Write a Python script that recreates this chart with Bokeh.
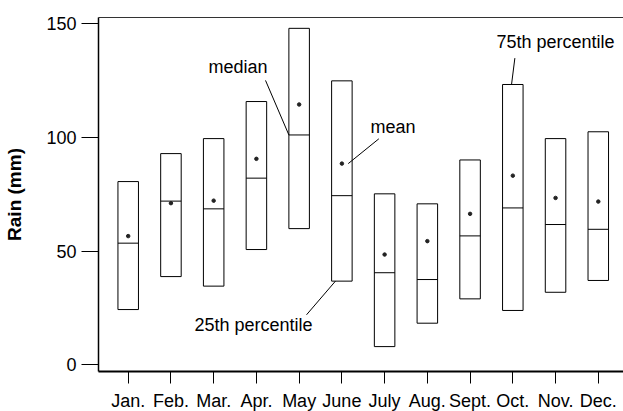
import numpy as np
from bokeh.plotting import figure
from bokeh.models import Range1d, FixedTicker, LinearAxis, Label
from bokeh.embed import file_html
from bokeh.resources import INLINE

# ---- data ----
months = ["Jan.", "Feb.", "Mar.", "Apr.", "May", "June",
          "July", "Aug.", "Sept.", "Oct.", "Nov.", "Dec."]
q25 = [24.3, 38.8, 34.6, 50.7, 59.9, 36.8, 8.0, 18.3, 29.0, 23.9, 31.9, 37.1]
median = [53.5, 72.0, 68.6, 82.1, 101.1, 74.4, 40.5, 37.5, 56.7, 69.0, 61.7, 59.6]
mean = [56.6, 71.1, 72.2, 90.6, 114.5, 88.5, 48.5, 54.4, 66.4, 83.2, 73.4, 71.8]
q75 = [80.6, 92.9, 99.5, 115.8, 148.0, 124.9, 75.2, 70.8, 90.1, 123.3, 99.5, 102.5]
y_ticks = [0, 50, 100, 150]

FONT = "Liberation Sans"
BOX_W = 0.48

xs = np.arange(len(months))

p = figure(frame_width=525, frame_height=354,
           x_range=Range1d(-0.695, 11.59), y_range=Range1d(-2.95, 152.77),
           output_backend="svg", toolbar_location=None,
           min_border_left=98, min_border_right=0,
           min_border_top=17, min_border_bottom=40)
p.grid.visible = False
p.outline_line_color = None
p.background_fill_color = "white"

# boxes
p.vbar(x=xs, width=BOX_W, bottom=q25, top=q75,
       fill_color="white", line_color="black", line_width=1)
# median lines
p.segment(x0=xs - BOX_W / 2, x1=xs + BOX_W / 2, y0=median, y1=median,
          line_color="black", line_width=1)
# mean dots
p.scatter(x=xs, y=mean, size=3.5, color="#222222")

# x axis
xa = p.xaxis[0]
xa.ticker = FixedTicker(ticks=list(range(len(months))))
xa.major_label_overrides = {int(i): m for i, m in enumerate(months)}
xa.major_tick_in = 0
xa.major_tick_out = 12
xa.minor_tick_line_color = None
xa.axis_line_width = 2
xa.major_label_standoff = 7
xa.major_label_text_font = FONT
xa.major_label_text_font_size = "18px"
xa.major_label_text_color = "black"

# y axis
ya = p.yaxis[0]
ya.ticker = FixedTicker(ticks=y_ticks)
ya.major_tick_in = 0
ya.major_tick_out = 17
ya.minor_tick_line_color = None
ya.axis_line_width = 1.5
ya.major_label_standoff = 5
ya.major_label_text_font = FONT
ya.major_label_text_font_size = "18px"
ya.major_label_text_color = "black"
ya.axis_label = "Rain (mm)"
ya.axis_label_text_font = FONT
ya.axis_label_text_font_style = "bold"
ya.axis_label_text_font_size = "19px"
ya.axis_label_text_color = "black"
ya.axis_label_standoff = 18

# top frame line
top = LinearAxis(ticker=FixedTicker(ticks=[]), major_tick_in=0, major_tick_out=0,
                 minor_tick_in=0, minor_tick_out=0,
                 major_label_text_font_size="0px", major_label_standoff=0,
                 axis_line_color="#333333", axis_line_width=1)
p.add_layout(top, "above")

# annotations: (text, text x, text y, leader start, leader end)
ann = [
    ("median", 2.57, 130.9, (3.213, 125.1), (4 - BOX_W / 2, median[4])),
    ("mean", 6.197, 104.5, (5.865, 99.4), (5.149, mean[5])),
    ("75th percentile", 10.0, 141.9, (9.048, 134.9), (8.97, q75[9])),
    ("25th percentile", 2.932, 17.3, (4.173, 22.0), (4.85, q25[5])),
]
for txt, tx, ty, (x0, y0), (x1, y1) in ann:
    p.add_layout(Label(x=tx, y=ty, text=txt, text_align="center",
                       text_baseline="middle", text_font=FONT,
                       text_font_size="18px", text_color="black"))
    p.line([x0, x1], [y0, y1], line_color="black", line_width=1)

open("out.html", "w").write(file_html(p, INLINE))
